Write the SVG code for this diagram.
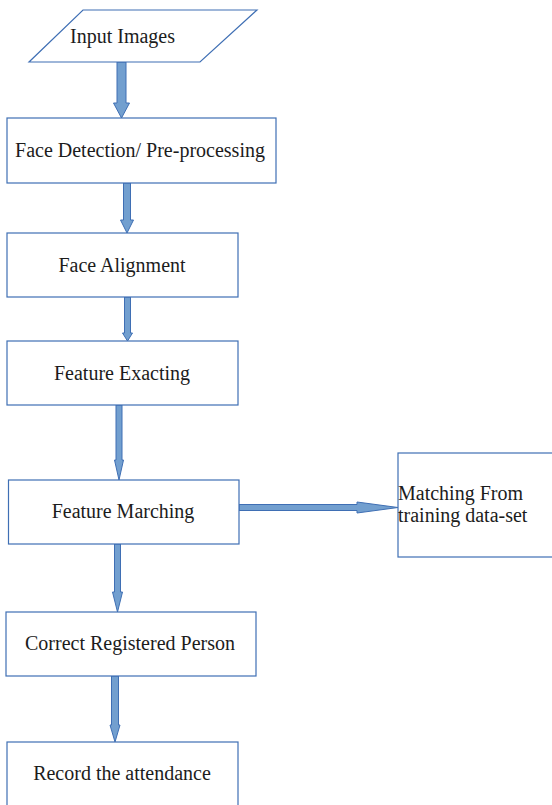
<svg xmlns="http://www.w3.org/2000/svg" width="552" height="805" viewBox="0 0 552 805">
<style>
.box{fill:#ffffff;stroke:#3f6fb4;stroke-width:1.2}
.arr{fill:#729fcf;stroke:#3f6fb4;stroke-width:1}
.t{font-family:"Liberation Serif","Times New Roman",serif;font-size:20px;fill:#1c1c1c}
.c{text-anchor:middle}
</style>
<rect width="552" height="805" fill="#ffffff"/>
<g id="connectors">
<polygon class="arr" points="117,62 126,62 126,103 129.5,103 121.5,118 113.5,103 117,103"/>
<polygon class="arr" points="123.5,183 130.5,183 130.5,220 133.5,220 127,233 120.5,220 123.5,220"/>
<polygon class="arr" points="124.5,297 130.5,297 130.5,333 132.5,333 127.5,341 122.5,333 124.5,333"/>
<polygon class="arr" points="116,405 122,405 122,460 123.5,460 119,480 114.5,460 116,460"/>
<polygon class="arr" points="114.5,544 120.5,544 120.5,592 122.5,592 117.5,612 112.5,592 114.5,592"/>
<polygon class="arr" points="111.5,676 118.5,676 118.5,725 120,725 115,742 110,725 111.5,725"/>
<polygon class="arr" points="239,504.5 357,504.5 357,502 398,507.5 357,513 357,510.5 239,510.5"/>
</g>
<g id="n1">
<polygon class="box" points="83,10 257,10 200,62 29,62"/>
<text class="t c" x="122.5" y="43">Input Images</text>
</g>
<g id="n2">
<rect class="box" x="7" y="118" width="269" height="65"/>
<text class="t c" x="140" y="157">Face Detection/ Pre-processing</text>
</g>
<g id="n3">
<rect class="box" x="7" y="233" width="231" height="64"/>
<text class="t c" x="122" y="272">Face Alignment</text>
</g>
<g id="n4">
<rect class="box" x="7" y="341" width="231" height="64"/>
<text class="t c" x="122" y="380">Feature Exacting</text>
</g>
<g id="n5">
<rect class="box" x="8.5" y="480" width="230.5" height="64"/>
<text class="t c" x="123" y="518">Feature Marching</text>
</g>
<g id="n6">
<rect class="box" x="398" y="453" width="160" height="104"/>
<text class="t" x="398" y="500">Matching From</text>
<text class="t" x="398" y="522">training data-set</text>
</g>
<g id="n7">
<rect class="box" x="6" y="612" width="250" height="64"/>
<text class="t c" x="130" y="650">Correct Registered Person</text>
</g>
<g id="n8">
<rect class="box" x="7" y="742" width="231" height="70"/>
<text class="t c" x="122" y="780">Record the attendance</text>
</g>
</svg>
